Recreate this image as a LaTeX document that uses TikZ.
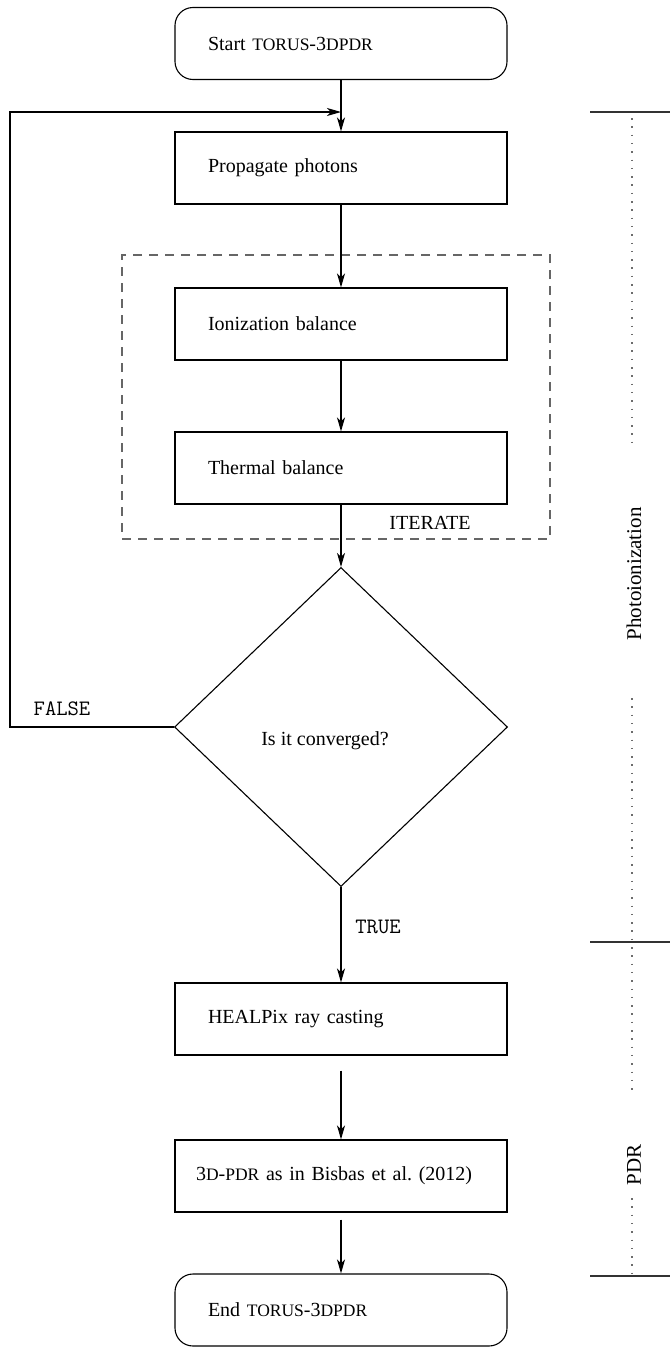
\documentclass[tikz,border=0pt]{standalone}
\usepackage{fontspec}
\setmainfont{Liberation Serif}
\usetikzlibrary{shapes.geometric,arrows.meta}
\newcommand{\fsc}[1]{{\fontsize{17.5}{20}\selectfont #1}}
\begin{document}
\begin{tikzpicture}[x=1pt,y=-1pt,
  every node/.style={font=\fontsize{20}{24}\selectfont},
  box/.style={draw, line width=1.1pt, minimum width=332pt, minimum height=72pt,
              text width=266pt, inner xsep=0pt, align=left},
  term/.style={box, rounded corners=18pt},
  arr/.style={line width=1.1pt, -{Stealth[length=14pt,width=8pt,inset=4pt]}},
  mono/.style={font=\fontsize{22}{26}\selectfont\ttfamily},
  dots/.style={gray!85!black, line width=1.7pt, dash pattern=on 1.5pt off 6.8pt},
  bracket/.style={line width=1.3pt, black!80},
  sidelabel/.style={rotate=90, font=\fontsize{21}{25}\selectfont},
  iterbox/.style={draw, dashed, gray!80!black, line width=1.1pt, dash pattern=on 9pt off 7pt}]
\useasboundingbox (0,0) rectangle (670,1347);

\node[iterbox, minimum width=428pt, minimum height=284pt, inner sep=0pt] (iter) at (336,397) {};
\node (itertext) at (430,523) {ITERATE};

\node[term] (start) at (341,43.5) {Start \fsc{TORUS}-3\fsc{DPDR}};
\node[box] (prop) at (341,168) {Propagate photons};
\node[box] (ion) at (341,324) {Ionization balance};
\node[box] (therm) at (341,468) {Thermal balance};
\node[draw, diamond, line width=1.1pt, minimum width=333pt, minimum height=319pt,
      inner sep=0pt, aspect=1.04] (conv) at (341,727) {};
\node (convtext) at (325,741) {Is it converged?};
\node[box] (heal) at (341,1019) {HEALPix ray casting};
\node[box, text width=290pt] (pdr) at (341,1176) {3\fsc{D}-\fsc{PDR} as in Bisbas et al.\ (2012)};
\node[term] (end) at (341,1310) {End \fsc{TORUS}-3\fsc{DPDR}};

\draw[arr] (start) -- (prop);
\draw[arr] (prop) -- (ion);
\draw[arr] (ion) -- (therm);
\draw[arr] (therm) -- (conv);
\draw[arr] (conv) -- (heal);
\node[mono] (true) at (378,927) {TRUE};
\draw[arr, shorten <=15pt] (heal) -- (pdr);
\draw[arr, shorten <=7pt] (pdr) -- (end);

\coordinate (fbx) at (10,112);
\coordinate (fbend) at (341,112);
\draw[arr] (conv.west) -| (fbx) -- (fbend);
\node[mono] (false) at (62,709) {FALSE};

\draw[bracket] (590,112) -- (670,112);
\draw[bracket] (590,942) -- (670,942);
\draw[bracket] (590,1276) -- (670,1276);
\draw[dots] (632,118) -- (632,442);
\draw[dots] (632,698) -- (632,1096);
\draw[dots] (632,1198) -- (632,1274);
\node[sidelabel] (phot) at (634,574) {Photoionization};
\node[sidelabel] (pdrlab) at (634,1165) {PDR};
\end{tikzpicture}
\end{document}
